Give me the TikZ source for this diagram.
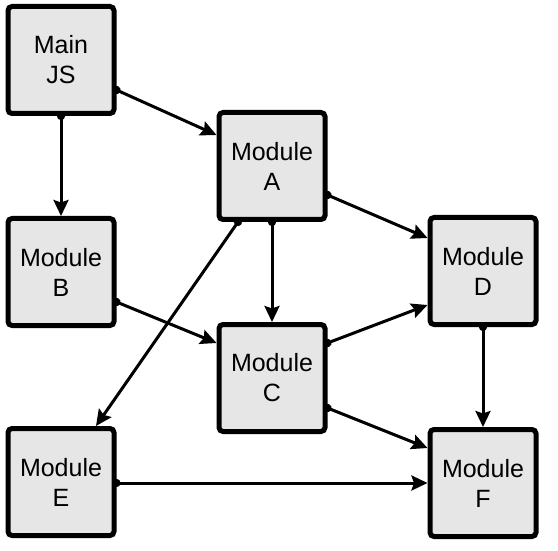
\documentclass[tikz,border=0pt]{standalone}
\usepackage{fontspec}
\setmainfont{Liberation Sans}
\usetikzlibrary{arrows.meta}
\definecolor{boxfill}{HTML}{E6E6E6}
\begin{document}
\begin{tikzpicture}[x=1pt,y=-1pt,
  modbox/.style={draw=black, line width=5pt, fill=boxfill, rounded corners=4pt,
    minimum width=106pt, minimum height=107pt, align=center, inner sep=0pt,
    font=\fontsize{25}{30}\selectfont},
  conn/.style={line width=3pt, {Circle[length=8pt]}-{Stealth[length=16pt,width=15pt,inset=2.5pt]}, shorten <=-4pt}]
\useasboundingbox (0,0) rectangle (558,551);
\node[modbox] (main) at (61,60) {Main\\JS};
\node[modbox] (a) at (272,166) {Module\\A};
\node[modbox] (b) at (61,272) {Module\\B};
\node[modbox] (c) at (272,378) {Module\\C};
\node[modbox] (d) at (483,271) {Module\\D};
\node[modbox] (e) at (61,482) {Module\\E};
\node[modbox] (f) at (483,483) {Module\\F};
\draw[conn] ([yshift=-30pt]main.east) -- ([yshift=31pt]a.west);
\draw[conn] (main.south) -- (b.north);
\draw[conn] (a.south) -- (c.north);
\draw[conn] ([xshift=-34pt]a.south) -- ([xshift=35pt]e.north);
\draw[conn] ([yshift=-29pt]a.east) -- ([yshift=33pt]d.west);
\draw[conn] ([yshift=-30pt]b.east) -- ([yshift=35pt]c.west);
\draw[conn] ([yshift=35pt]c.east) -- ([yshift=-34pt]d.west);
\draw[conn] ([yshift=-30pt]c.east) -- ([yshift=35pt]f.west);
\draw[conn] (d.south) -- (f.north);
\draw[conn] ([yshift=-1pt]e.east) -- (f.west);
\end{tikzpicture}
\end{document}
